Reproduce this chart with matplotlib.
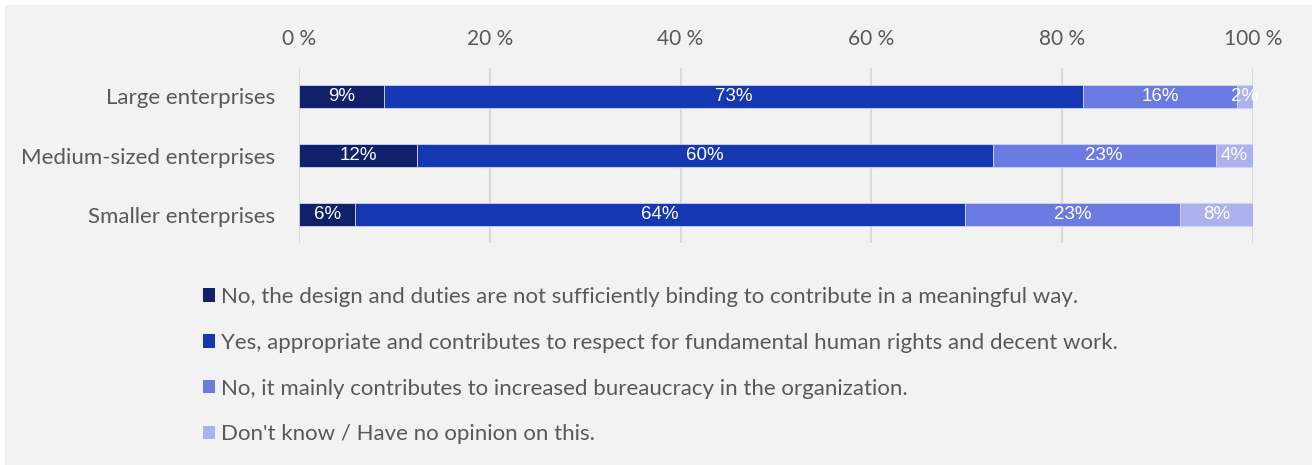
import numpy as np
import matplotlib
matplotlib.use("Agg")
import matplotlib.pyplot as plt
from matplotlib.patches import Rectangle, Patch

categories = ["Large enterprises", "Medium-sized enterprises", "Smaller enterprises"]
series_names = [
    "No, the design and duties are not sufficiently binding to contribute in a meaningful way.",
    "Yes, appropriate and contributes to respect for fundamental human rights and decent work.",
    "No, it mainly contributes to increased bureaucracy in the organization.",
    "Don't know / Have no opinion on this.",
]
not_binding = [8.9, 12.4, 5.9]
appropriate = [73.3, 60.3, 63.9]
bureaucracy = [16.1, 23.4, 22.6]
dont_know = [1.7, 3.9, 7.6]
x_ticks = [0, 20, 40, 60, 80, 100]
x_tick_labels = ["0 %", "20 %", "40 %", "60 %", "80 %", "100 %"]

cores = ["#10206a", "#1637b2", "#6c7ae4", "#adb2ee"]
cinza = "#595959"
fonte = "Lato"

fig = plt.figure(figsize=(13.12, 4.65), dpi=100)
fig.patch.set_facecolor("white")
fig.patches.append(Rectangle((5 / 1312, 0), 1, 1 - 5 / 465, transform=fig.transFigure,
                             facecolor="#f2f2f2", edgecolor="none", zorder=-10))

ax = fig.add_axes([299 / 1312, 1 - 243 / 465, 954 / 1312, 175 / 465])
ax.set_facecolor("none")

y = np.arange(len(categories))
left = np.zeros(len(categories))
for k, vals in enumerate([not_binding, appropriate, bureaucracy, dont_know]):
    vals = np.array(vals)
    ax.barh(y, vals, left=left, height=0.39, color=cores[k], edgecolor="#d0d4f2",
            linewidth=0.6, zorder=2)
    for yi, l, v in zip(y, left, vals):
        ax.text(l + v / 2, yi, f"{round(v)}%", ha="center", va="center", color="white",
                fontsize=13.5, family="Liberation Sans", zorder=3)
    left += vals

ax.set_xlim(0, 100)
ax.set_ylim(2.48, -0.48)
ax.set_xticks(x_ticks)
ax.set_xticklabels(x_tick_labels)
ax.xaxis.tick_top()
ax.set_yticks(y)
ax.set_yticklabels(categories)
ax.tick_params(axis="y", length=0, labelsize=16, labelcolor=cinza, pad=17)
ax.tick_params(axis="x", length=0, labelsize=15, labelcolor=cinza, pad=14)
for lab in ax.get_xticklabels() + ax.get_yticklabels():
    lab.set_family(fonte)
ax.grid(axis="x", color="#d9d9d9", lw=1.5, zorder=0)
for s in ax.spines.values():
    s.set_visible(False)

handles = [Patch(facecolor=c, edgecolor="none") for c in cores]
fig.legend(handles, series_names, loc="upper left", bbox_to_anchor=(203 / 1312, 1 - 287 / 465),
           frameon=False, prop={"family": fonte, "size": 16}, labelcolor=cinza,
           handlelength=0.56, handleheight=0.56, handletextpad=0.25, labelspacing=1.16,
           borderpad=0, borderaxespad=0)

fig.savefig("out.png", dpi=100)
